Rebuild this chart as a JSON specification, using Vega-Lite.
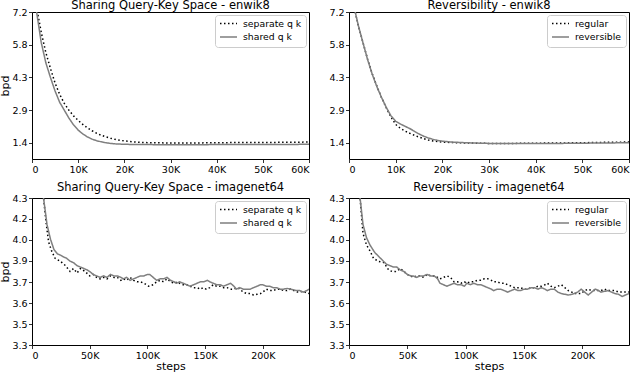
{
 "$schema": "https://vega.github.io/schema/vega-lite/v6.json",
 "padding": {"left": -1, "top": -1, "right": 4, "bottom": 0},
 "background": "white",
 "config": {
  "font": "DejaVu Sans",
  "view": {"stroke": "black", "strokeWidth": 1},
  "axis": {"domain": false, "grid": false, "tickColor": "black", "tickSize": 3.5, "tickWidth": 0.8, "labelFontSize": 9.5, "labelColor": "black", "labelPadding": 1.5, "titleFontSize": 11, "titleFontWeight": "normal", "titleColor": "black", "titlePadding": 1},
  "axisY": {"titlePadding": 1},
  "title": {"fontSize": 11.5, "fontWeight": "normal", "offset": -0.8, "color": "black"},
  "legend": {"orient": "top-right", "offset": 3, "strokeColor": "#cccccc", "fillColor": "white", "cornerRadius": 3, "padding": 4, "symbolType": "stroke", "symbolSize": 289, "symbolStrokeWidth": 1.5, "labelFontSize": 9.3, "labelColor": "black", "labelOffset": 5, "rowPadding": 3.5, "clipHeight": 9}
 },
 "data": {"name": "runs"},
 "spacing": 7,
 "vconcat": [
  {
   "spacing": 18,
   "hconcat": [
    {
     "width": 277, "height": 147,
     "title": {"text": "Sharing Query-Key Space - enwik8", "offset": -4},
     "transform": [{"filter": "datum.panel == 'A'"}],
     "mark": {"type": "line", "strokeWidth": 1.5, "clip": true},
     "encoding": {
      "x": {"field": "step", "type": "quantitative", "scale": {"domain": [0, 60000], "nice": false}, "axis": {"values": [0, 10000, 20000, 30000, 40000, 50000, 60000], "labelExpr": "datum.value == 0 ? '0' : datum.value / 1000 + 'K'", "title": null}},
      "y": {"field": "bpd", "type": "quantitative", "scale": {"domain": [0.69, 7.2], "nice": false, "zero": false}, "axis": {"values": [1.4, 2.85, 4.3, 5.75, 7.2], "format": ".1f", "title": "bpd"}},
      "color": {"field": "series", "type": "nominal", "scale": {"domain": ["separate q k", "shared q k"], "range": ["black", "#7f7f7f"]}, "legend": {"title": null}},
      "strokeDash": {"field": "series", "type": "nominal", "scale": {"domain": ["separate q k", "shared q k"], "range": [[1.5, 2.5], [1, 0]]}, "legend": {"title": null}}
     }
    },
    {
     "width": 280, "height": 147,
     "title": {"text": "Reversibility - enwik8", "offset": -4},
     "transform": [{"filter": "datum.panel == 'B'"}],
     "mark": {"type": "line", "strokeWidth": 1.5, "clip": true},
     "encoding": {
      "x": {"field": "step", "type": "quantitative", "scale": {"domain": [0, 60000], "nice": false}, "axis": {"values": [0, 10000, 20000, 30000, 40000, 50000, 60000], "labelExpr": "datum.value == 0 ? '0' : datum.value / 1000 + 'K'", "title": null}},
      "y": {"field": "bpd", "type": "quantitative", "scale": {"domain": [0.69, 7.2], "nice": false, "zero": false}, "axis": {"values": [1.4, 2.85, 4.3, 5.75, 7.2], "format": ".1f", "title": null}},
      "color": {"field": "series", "type": "nominal", "scale": {"domain": ["regular", "reversible"], "range": ["black", "#7f7f7f"]}, "legend": {"title": null}},
      "strokeDash": {"field": "series", "type": "nominal", "scale": {"domain": ["regular", "reversible"], "range": [[1.5, 2.5], [1, 0]]}, "legend": {"title": null}}
     }
    }
   ],
   "resolve": {"scale": {"x": "independent", "y": "independent", "color": "independent", "strokeDash": "independent"}, "axis": {"x": "independent", "y": "independent"}, "legend": {"color": "independent", "strokeDash": "independent"}}
  },
  {
   "spacing": 18,
   "hconcat": [
    {
     "width": 277, "height": 147,
     "title": "Sharing Query-Key Space - imagenet64",
     "transform": [{"filter": "datum.panel == 'C'"}],
     "mark": {"type": "line", "strokeWidth": 1.5, "clip": true},
     "encoding": {
      "x": {"field": "step", "type": "quantitative", "scale": {"domain": [0, 240000], "nice": false}, "axis": {"values": [0, 50000, 100000, 150000, 200000], "labelExpr": "datum.value == 0 ? '0' : datum.value / 1000 + 'K'", "title": "steps"}},
      "y": {"field": "bpd", "type": "quantitative", "scale": {"domain": [3.3, 4.3], "nice": false, "zero": false}, "axis": {"values": [3.3, 3.442857, 3.585714, 3.728571, 3.871429, 4.014286, 4.157143, 4.3], "labelExpr": "datum.value > 3.4 && datum.value < 3.5 ? '3.5' : format(datum.value, '.1f')", "title": "bpd"}},
      "color": {"field": "series", "type": "nominal", "scale": {"domain": ["separate q k", "shared q k"], "range": ["black", "#7f7f7f"]}, "legend": {"title": null}},
      "strokeDash": {"field": "series", "type": "nominal", "scale": {"domain": ["separate q k", "shared q k"], "range": [[1.5, 2.5], [1, 0]]}, "legend": {"title": null}}
     }
    },
    {
     "width": 280, "height": 147,
     "title": "Reversibility - imagenet64",
     "transform": [{"filter": "datum.panel == 'D'"}],
     "mark": {"type": "line", "strokeWidth": 1.5, "clip": true},
     "encoding": {
      "x": {"field": "step", "type": "quantitative", "scale": {"domain": [0, 240000], "nice": false}, "axis": {"values": [0, 50000, 100000, 150000, 200000], "labelExpr": "datum.value == 0 ? '0' : datum.value / 1000 + 'K'", "title": "steps"}},
      "y": {"field": "bpd", "type": "quantitative", "scale": {"domain": [3.3, 4.3], "nice": false, "zero": false}, "axis": {"values": [3.3, 3.442857, 3.585714, 3.728571, 3.871429, 4.014286, 4.157143, 4.3], "labelExpr": "datum.value > 3.4 && datum.value < 3.5 ? '3.5' : format(datum.value, '.1f')", "title": null}},
      "color": {"field": "series", "type": "nominal", "scale": {"domain": ["regular", "reversible"], "range": ["black", "#7f7f7f"]}, "legend": {"title": null}},
      "strokeDash": {"field": "series", "type": "nominal", "scale": {"domain": ["regular", "reversible"], "range": [[1.5, 2.5], [1, 0]]}, "legend": {"title": null}}
     }
    }
   ],
   "resolve": {"scale": {"x": "independent", "y": "independent", "color": "independent", "strokeDash": "independent"}, "axis": {"x": "independent", "y": "independent"}, "legend": {"color": "independent", "strokeDash": "independent"}}
  }
 ],
 "resolve": {"scale": {"x": "independent", "y": "independent", "color": "independent", "strokeDash": "independent"}, "axis": {"x": "independent", "y": "independent"}, "legend": {"color": "independent", "strokeDash": "independent"}},
 "datasets": {
  "runs": [
   {"panel": "A", "series": "separate q k", "step": 0, "bpd": 8.1},
   {"panel": "A", "series": "separate q k", "step": 1000, "bpd": 7.4},
   {"panel": "A", "series": "separate q k", "step": 2000, "bpd": 6.3},
   {"panel": "A", "series": "separate q k", "step": 3000, "bpd": 5.4},
   {"panel": "A", "series": "separate q k", "step": 4000, "bpd": 4.7},
   {"panel": "A", "series": "separate q k", "step": 5000, "bpd": 4.05},
   {"panel": "A", "series": "separate q k", "step": 6000, "bpd": 3.55},
   {"panel": "A", "series": "separate q k", "step": 7000, "bpd": 3.15},
   {"panel": "A", "series": "separate q k", "step": 8000, "bpd": 2.85},
   {"panel": "A", "series": "separate q k", "step": 9000, "bpd": 2.6},
   {"panel": "A", "series": "separate q k", "step": 10000, "bpd": 2.4},
   {"panel": "A", "series": "separate q k", "step": 11000, "bpd": 2.22},
   {"panel": "A", "series": "separate q k", "step": 12000, "bpd": 2.07},
   {"panel": "A", "series": "separate q k", "step": 13000, "bpd": 1.94},
   {"panel": "A", "series": "separate q k", "step": 14000, "bpd": 1.83},
   {"panel": "A", "series": "separate q k", "step": 15000, "bpd": 1.74},
   {"panel": "A", "series": "separate q k", "step": 16000, "bpd": 1.67},
   {"panel": "A", "series": "separate q k", "step": 17000, "bpd": 1.61},
   {"panel": "A", "series": "separate q k", "step": 18000, "bpd": 1.56},
   {"panel": "A", "series": "separate q k", "step": 19000, "bpd": 1.52},
   {"panel": "A", "series": "separate q k", "step": 20000, "bpd": 1.49},
   {"panel": "A", "series": "separate q k", "step": 22000, "bpd": 1.45},
   {"panel": "A", "series": "separate q k", "step": 24000, "bpd": 1.42},
   {"panel": "A", "series": "separate q k", "step": 26000, "bpd": 1.41},
   {"panel": "A", "series": "separate q k", "step": 30000, "bpd": 1.40},
   {"panel": "A", "series": "separate q k", "step": 35000, "bpd": 1.40},
   {"panel": "A", "series": "separate q k", "step": 40000, "bpd": 1.41},
   {"panel": "A", "series": "separate q k", "step": 45000, "bpd": 1.42},
   {"panel": "A", "series": "separate q k", "step": 50000, "bpd": 1.42},
   {"panel": "A", "series": "separate q k", "step": 55000, "bpd": 1.43},
   {"panel": "A", "series": "separate q k", "step": 60000, "bpd": 1.44},
   {"panel": "A", "series": "shared q k", "step": 0, "bpd": 8.0},
   {"panel": "A", "series": "shared q k", "step": 1000, "bpd": 7.2},
   {"panel": "A", "series": "shared q k", "step": 2000, "bpd": 5.85},
   {"panel": "A", "series": "shared q k", "step": 3000, "bpd": 4.95},
   {"panel": "A", "series": "shared q k", "step": 4000, "bpd": 4.3},
   {"panel": "A", "series": "shared q k", "step": 5000, "bpd": 3.7},
   {"panel": "A", "series": "shared q k", "step": 6000, "bpd": 3.2},
   {"panel": "A", "series": "shared q k", "step": 7000, "bpd": 2.85},
   {"panel": "A", "series": "shared q k", "step": 8000, "bpd": 2.5},
   {"panel": "A", "series": "shared q k", "step": 9000, "bpd": 2.2},
   {"panel": "A", "series": "shared q k", "step": 10000, "bpd": 1.97},
   {"panel": "A", "series": "shared q k", "step": 11000, "bpd": 1.8},
   {"panel": "A", "series": "shared q k", "step": 12000, "bpd": 1.67},
   {"panel": "A", "series": "shared q k", "step": 13000, "bpd": 1.57},
   {"panel": "A", "series": "shared q k", "step": 14000, "bpd": 1.5},
   {"panel": "A", "series": "shared q k", "step": 15000, "bpd": 1.45},
   {"panel": "A", "series": "shared q k", "step": 16000, "bpd": 1.41},
   {"panel": "A", "series": "shared q k", "step": 17000, "bpd": 1.38},
   {"panel": "A", "series": "shared q k", "step": 18000, "bpd": 1.36},
   {"panel": "A", "series": "shared q k", "step": 20000, "bpd": 1.34},
   {"panel": "A", "series": "shared q k", "step": 24000, "bpd": 1.33},
   {"panel": "A", "series": "shared q k", "step": 30000, "bpd": 1.32},
   {"panel": "A", "series": "shared q k", "step": 35000, "bpd": 1.32},
   {"panel": "A", "series": "shared q k", "step": 40000, "bpd": 1.33},
   {"panel": "A", "series": "shared q k", "step": 50000, "bpd": 1.33},
   {"panel": "A", "series": "shared q k", "step": 60000, "bpd": 1.34},
   {"panel": "B", "series": "regular", "step": 0, "bpd": 8.4},
   {"panel": "B", "series": "regular", "step": 1000, "bpd": 7.5},
   {"panel": "B", "series": "regular", "step": 2000, "bpd": 6.6},
   {"panel": "B", "series": "regular", "step": 3000, "bpd": 5.85},
   {"panel": "B", "series": "regular", "step": 4000, "bpd": 5.1},
   {"panel": "B", "series": "regular", "step": 5000, "bpd": 4.45},
   {"panel": "B", "series": "regular", "step": 6000, "bpd": 3.9},
   {"panel": "B", "series": "regular", "step": 7000, "bpd": 3.4},
   {"panel": "B", "series": "regular", "step": 8000, "bpd": 2.95},
   {"panel": "B", "series": "regular", "step": 9000, "bpd": 2.55},
   {"panel": "B", "series": "regular", "step": 10000, "bpd": 2.22},
   {"panel": "B", "series": "regular", "step": 11000, "bpd": 2.05},
   {"panel": "B", "series": "regular", "step": 12000, "bpd": 1.93},
   {"panel": "B", "series": "regular", "step": 13000, "bpd": 1.83},
   {"panel": "B", "series": "regular", "step": 14000, "bpd": 1.74},
   {"panel": "B", "series": "regular", "step": 15000, "bpd": 1.66},
   {"panel": "B", "series": "regular", "step": 16000, "bpd": 1.59},
   {"panel": "B", "series": "regular", "step": 17000, "bpd": 1.53},
   {"panel": "B", "series": "regular", "step": 18000, "bpd": 1.49},
   {"panel": "B", "series": "regular", "step": 19000, "bpd": 1.46},
   {"panel": "B", "series": "regular", "step": 20000, "bpd": 1.44},
   {"panel": "B", "series": "regular", "step": 22000, "bpd": 1.42},
   {"panel": "B", "series": "regular", "step": 25000, "bpd": 1.40},
   {"panel": "B", "series": "regular", "step": 30000, "bpd": 1.38},
   {"panel": "B", "series": "regular", "step": 35000, "bpd": 1.38},
   {"panel": "B", "series": "regular", "step": 40000, "bpd": 1.39},
   {"panel": "B", "series": "regular", "step": 45000, "bpd": 1.40},
   {"panel": "B", "series": "regular", "step": 50000, "bpd": 1.41},
   {"panel": "B", "series": "regular", "step": 55000, "bpd": 1.43},
   {"panel": "B", "series": "regular", "step": 60000, "bpd": 1.44},
   {"panel": "B", "series": "reversible", "step": 0, "bpd": 8.4},
   {"panel": "B", "series": "reversible", "step": 1000, "bpd": 7.5},
   {"panel": "B", "series": "reversible", "step": 2000, "bpd": 6.6},
   {"panel": "B", "series": "reversible", "step": 3000, "bpd": 5.83},
   {"panel": "B", "series": "reversible", "step": 4000, "bpd": 5.08},
   {"panel": "B", "series": "reversible", "step": 5000, "bpd": 4.43},
   {"panel": "B", "series": "reversible", "step": 6000, "bpd": 3.88},
   {"panel": "B", "series": "reversible", "step": 7000, "bpd": 3.4},
   {"panel": "B", "series": "reversible", "step": 8000, "bpd": 2.97},
   {"panel": "B", "series": "reversible", "step": 9000, "bpd": 2.6},
   {"panel": "B", "series": "reversible", "step": 10000, "bpd": 2.36},
   {"panel": "B", "series": "reversible", "step": 11000, "bpd": 2.24},
   {"panel": "B", "series": "reversible", "step": 12000, "bpd": 2.14},
   {"panel": "B", "series": "reversible", "step": 13000, "bpd": 2.04},
   {"panel": "B", "series": "reversible", "step": 14000, "bpd": 1.92},
   {"panel": "B", "series": "reversible", "step": 15000, "bpd": 1.8},
   {"panel": "B", "series": "reversible", "step": 16000, "bpd": 1.7},
   {"panel": "B", "series": "reversible", "step": 17000, "bpd": 1.62},
   {"panel": "B", "series": "reversible", "step": 18000, "bpd": 1.56},
   {"panel": "B", "series": "reversible", "step": 19000, "bpd": 1.51},
   {"panel": "B", "series": "reversible", "step": 20000, "bpd": 1.48},
   {"panel": "B", "series": "reversible", "step": 22000, "bpd": 1.44},
   {"panel": "B", "series": "reversible", "step": 25000, "bpd": 1.41},
   {"panel": "B", "series": "reversible", "step": 30000, "bpd": 1.38},
   {"panel": "B", "series": "reversible", "step": 35000, "bpd": 1.38},
   {"panel": "B", "series": "reversible", "step": 40000, "bpd": 1.38},
   {"panel": "B", "series": "reversible", "step": 45000, "bpd": 1.38},
   {"panel": "B", "series": "reversible", "step": 50000, "bpd": 1.39},
   {"panel": "B", "series": "reversible", "step": 55000, "bpd": 1.40},
   {"panel": "B", "series": "reversible", "step": 60000, "bpd": 1.41},
   {"panel": "C", "series": "separate q k", "step": 5000, "bpd": 5.0},
   {"panel": "C", "series": "separate q k", "step": 10000, "bpd": 4.3},
   {"panel": "C", "series": "separate q k", "step": 12400, "bpd": 4.12},
   {"panel": "C", "series": "separate q k", "step": 14400, "bpd": 4.0},
   {"panel": "C", "series": "separate q k", "step": 17000, "bpd": 3.94},
   {"panel": "C", "series": "separate q k", "step": 20000, "bpd": 3.89},
   {"panel": "C", "series": "separate q k", "step": 24500, "bpd": 3.87},
   {"panel": "C", "series": "separate q k", "step": 29000, "bpd": 3.84},
   {"panel": "C", "series": "separate q k", "step": 33000, "bpd": 3.80},
   {"panel": "C", "series": "separate q k", "step": 36000, "bpd": 3.82},
   {"panel": "C", "series": "separate q k", "step": 39000, "bpd": 3.79},
   {"panel": "C", "series": "separate q k", "step": 42000, "bpd": 3.82},
   {"panel": "C", "series": "separate q k", "step": 46000, "bpd": 3.80},
   {"panel": "C", "series": "separate q k", "step": 50000, "bpd": 3.77},
   {"panel": "C", "series": "separate q k", "step": 53000, "bpd": 3.78},
   {"panel": "C", "series": "separate q k", "step": 56000, "bpd": 3.76},
   {"panel": "C", "series": "separate q k", "step": 59000, "bpd": 3.75},
   {"panel": "C", "series": "separate q k", "step": 62000, "bpd": 3.76},
   {"panel": "C", "series": "separate q k", "step": 65000, "bpd": 3.75},
   {"panel": "C", "series": "separate q k", "step": 68000, "bpd": 3.77},
   {"panel": "C", "series": "separate q k", "step": 71000, "bpd": 3.76},
   {"panel": "C", "series": "separate q k", "step": 74000, "bpd": 3.76},
   {"panel": "C", "series": "separate q k", "step": 77000, "bpd": 3.74},
   {"panel": "C", "series": "separate q k", "step": 79000, "bpd": 3.75},
   {"panel": "C", "series": "separate q k", "step": 82000, "bpd": 3.74},
   {"panel": "C", "series": "separate q k", "step": 85000, "bpd": 3.76},
   {"panel": "C", "series": "separate q k", "step": 88000, "bpd": 3.74},
   {"panel": "C", "series": "separate q k", "step": 91000, "bpd": 3.73},
   {"panel": "C", "series": "separate q k", "step": 94000, "bpd": 3.73},
   {"panel": "C", "series": "separate q k", "step": 97000, "bpd": 3.72},
   {"panel": "C", "series": "separate q k", "step": 101000, "bpd": 3.70},
   {"panel": "C", "series": "separate q k", "step": 105000, "bpd": 3.71},
   {"panel": "C", "series": "separate q k", "step": 108000, "bpd": 3.73},
   {"panel": "C", "series": "separate q k", "step": 111000, "bpd": 3.74},
   {"panel": "C", "series": "separate q k", "step": 114000, "bpd": 3.73},
   {"panel": "C", "series": "separate q k", "step": 117000, "bpd": 3.75},
   {"panel": "C", "series": "separate q k", "step": 120000, "bpd": 3.73},
   {"panel": "C", "series": "separate q k", "step": 123000, "bpd": 3.72},
   {"panel": "C", "series": "separate q k", "step": 126000, "bpd": 3.73},
   {"panel": "C", "series": "separate q k", "step": 128000, "bpd": 3.72},
   {"panel": "C", "series": "separate q k", "step": 131000, "bpd": 3.71},
   {"panel": "C", "series": "separate q k", "step": 134000, "bpd": 3.71},
   {"panel": "C", "series": "separate q k", "step": 137000, "bpd": 3.70},
   {"panel": "C", "series": "separate q k", "step": 140000, "bpd": 3.69},
   {"panel": "C", "series": "separate q k", "step": 143000, "bpd": 3.69},
   {"panel": "C", "series": "separate q k", "step": 146000, "bpd": 3.68},
   {"panel": "C", "series": "separate q k", "step": 148000, "bpd": 3.69},
   {"panel": "C", "series": "separate q k", "step": 151000, "bpd": 3.68},
   {"panel": "C", "series": "separate q k", "step": 154000, "bpd": 3.69},
   {"panel": "C", "series": "separate q k", "step": 157000, "bpd": 3.71},
   {"panel": "C", "series": "separate q k", "step": 160000, "bpd": 3.70},
   {"panel": "C", "series": "separate q k", "step": 163000, "bpd": 3.70},
   {"panel": "C", "series": "separate q k", "step": 166000, "bpd": 3.69},
   {"panel": "C", "series": "separate q k", "step": 169000, "bpd": 3.69},
   {"panel": "C", "series": "separate q k", "step": 172000, "bpd": 3.68},
   {"panel": "C", "series": "separate q k", "step": 175000, "bpd": 3.68},
   {"panel": "C", "series": "separate q k", "step": 178000, "bpd": 3.69},
   {"panel": "C", "series": "separate q k", "step": 180000, "bpd": 3.68},
   {"panel": "C", "series": "separate q k", "step": 183000, "bpd": 3.66},
   {"panel": "C", "series": "separate q k", "step": 186000, "bpd": 3.65},
   {"panel": "C", "series": "separate q k", "step": 189000, "bpd": 3.65},
   {"panel": "C", "series": "separate q k", "step": 192000, "bpd": 3.64},
   {"panel": "C", "series": "separate q k", "step": 195000, "bpd": 3.645},
   {"panel": "C", "series": "separate q k", "step": 198000, "bpd": 3.65},
   {"panel": "C", "series": "separate q k", "step": 200000, "bpd": 3.66},
   {"panel": "C", "series": "separate q k", "step": 203000, "bpd": 3.68},
   {"panel": "C", "series": "separate q k", "step": 206000, "bpd": 3.67},
   {"panel": "C", "series": "separate q k", "step": 209000, "bpd": 3.67},
   {"panel": "C", "series": "separate q k", "step": 212000, "bpd": 3.68},
   {"panel": "C", "series": "separate q k", "step": 215000, "bpd": 3.68},
   {"panel": "C", "series": "separate q k", "step": 218000, "bpd": 3.67},
   {"panel": "C", "series": "separate q k", "step": 221000, "bpd": 3.67},
   {"panel": "C", "series": "separate q k", "step": 224000, "bpd": 3.68},
   {"panel": "C", "series": "separate q k", "step": 227000, "bpd": 3.67},
   {"panel": "C", "series": "separate q k", "step": 230000, "bpd": 3.66},
   {"panel": "C", "series": "separate q k", "step": 232000, "bpd": 3.66},
   {"panel": "C", "series": "separate q k", "step": 235000, "bpd": 3.665},
   {"panel": "C", "series": "separate q k", "step": 238000, "bpd": 3.655},
   {"panel": "C", "series": "separate q k", "step": 240000, "bpd": 3.65},
   {"panel": "C", "series": "shared q k", "step": 5000, "bpd": 5.2},
   {"panel": "C", "series": "shared q k", "step": 10000, "bpd": 4.3},
   {"panel": "C", "series": "shared q k", "step": 13000, "bpd": 4.12},
   {"panel": "C", "series": "shared q k", "step": 16000, "bpd": 4.02},
   {"panel": "C", "series": "shared q k", "step": 19000, "bpd": 3.95},
   {"panel": "C", "series": "shared q k", "step": 22000, "bpd": 3.92},
   {"panel": "C", "series": "shared q k", "step": 25000, "bpd": 3.91},
   {"panel": "C", "series": "shared q k", "step": 27000, "bpd": 3.90},
   {"panel": "C", "series": "shared q k", "step": 30000, "bpd": 3.89},
   {"panel": "C", "series": "shared q k", "step": 33000, "bpd": 3.87},
   {"panel": "C", "series": "shared q k", "step": 36000, "bpd": 3.86},
   {"panel": "C", "series": "shared q k", "step": 39000, "bpd": 3.84},
   {"panel": "C", "series": "shared q k", "step": 42000, "bpd": 3.83},
   {"panel": "C", "series": "shared q k", "step": 45000, "bpd": 3.82},
   {"panel": "C", "series": "shared q k", "step": 48000, "bpd": 3.81},
   {"panel": "C", "series": "shared q k", "step": 50000, "bpd": 3.80},
   {"panel": "C", "series": "shared q k", "step": 53000, "bpd": 3.78},
   {"panel": "C", "series": "shared q k", "step": 56000, "bpd": 3.77},
   {"panel": "C", "series": "shared q k", "step": 59000, "bpd": 3.76},
   {"panel": "C", "series": "shared q k", "step": 62000, "bpd": 3.77},
   {"panel": "C", "series": "shared q k", "step": 65000, "bpd": 3.76},
   {"panel": "C", "series": "shared q k", "step": 68000, "bpd": 3.78},
   {"panel": "C", "series": "shared q k", "step": 71000, "bpd": 3.77},
   {"panel": "C", "series": "shared q k", "step": 74000, "bpd": 3.77},
   {"panel": "C", "series": "shared q k", "step": 77000, "bpd": 3.76},
   {"panel": "C", "series": "shared q k", "step": 79000, "bpd": 3.75},
   {"panel": "C", "series": "shared q k", "step": 82000, "bpd": 3.76},
   {"panel": "C", "series": "shared q k", "step": 85000, "bpd": 3.74},
   {"panel": "C", "series": "shared q k", "step": 88000, "bpd": 3.75},
   {"panel": "C", "series": "shared q k", "step": 91000, "bpd": 3.76},
   {"panel": "C", "series": "shared q k", "step": 94000, "bpd": 3.77},
   {"panel": "C", "series": "shared q k", "step": 97000, "bpd": 3.77},
   {"panel": "C", "series": "shared q k", "step": 100000, "bpd": 3.78},
   {"panel": "C", "series": "shared q k", "step": 102000, "bpd": 3.78},
   {"panel": "C", "series": "shared q k", "step": 105000, "bpd": 3.76},
   {"panel": "C", "series": "shared q k", "step": 108000, "bpd": 3.74},
   {"panel": "C", "series": "shared q k", "step": 111000, "bpd": 3.75},
   {"panel": "C", "series": "shared q k", "step": 114000, "bpd": 3.75},
   {"panel": "C", "series": "shared q k", "step": 117000, "bpd": 3.76},
   {"panel": "C", "series": "shared q k", "step": 120000, "bpd": 3.74},
   {"panel": "C", "series": "shared q k", "step": 123000, "bpd": 3.73},
   {"panel": "C", "series": "shared q k", "step": 125000, "bpd": 3.72},
   {"panel": "C", "series": "shared q k", "step": 128000, "bpd": 3.73},
   {"panel": "C", "series": "shared q k", "step": 131000, "bpd": 3.72},
   {"panel": "C", "series": "shared q k", "step": 134000, "bpd": 3.71},
   {"panel": "C", "series": "shared q k", "step": 137000, "bpd": 3.70},
   {"panel": "C", "series": "shared q k", "step": 140000, "bpd": 3.71},
   {"panel": "C", "series": "shared q k", "step": 143000, "bpd": 3.72},
   {"panel": "C", "series": "shared q k", "step": 146000, "bpd": 3.73},
   {"panel": "C", "series": "shared q k", "step": 149000, "bpd": 3.73},
   {"panel": "C", "series": "shared q k", "step": 152000, "bpd": 3.74},
   {"panel": "C", "series": "shared q k", "step": 154000, "bpd": 3.73},
   {"panel": "C", "series": "shared q k", "step": 157000, "bpd": 3.72},
   {"panel": "C", "series": "shared q k", "step": 160000, "bpd": 3.71},
   {"panel": "C", "series": "shared q k", "step": 163000, "bpd": 3.71},
   {"panel": "C", "series": "shared q k", "step": 166000, "bpd": 3.70},
   {"panel": "C", "series": "shared q k", "step": 169000, "bpd": 3.71},
   {"panel": "C", "series": "shared q k", "step": 172000, "bpd": 3.72},
   {"panel": "C", "series": "shared q k", "step": 175000, "bpd": 3.70},
   {"panel": "C", "series": "shared q k", "step": 177000, "bpd": 3.68},
   {"panel": "C", "series": "shared q k", "step": 180000, "bpd": 3.69},
   {"panel": "C", "series": "shared q k", "step": 183000, "bpd": 3.68},
   {"panel": "C", "series": "shared q k", "step": 186000, "bpd": 3.68},
   {"panel": "C", "series": "shared q k", "step": 189000, "bpd": 3.68},
   {"panel": "C", "series": "shared q k", "step": 192000, "bpd": 3.69},
   {"panel": "C", "series": "shared q k", "step": 195000, "bpd": 3.70},
   {"panel": "C", "series": "shared q k", "step": 198000, "bpd": 3.71},
   {"panel": "C", "series": "shared q k", "step": 200000, "bpd": 3.71},
   {"panel": "C", "series": "shared q k", "step": 203000, "bpd": 3.70},
   {"panel": "C", "series": "shared q k", "step": 206000, "bpd": 3.70},
   {"panel": "C", "series": "shared q k", "step": 209000, "bpd": 3.69},
   {"panel": "C", "series": "shared q k", "step": 212000, "bpd": 3.69},
   {"panel": "C", "series": "shared q k", "step": 215000, "bpd": 3.68},
   {"panel": "C", "series": "shared q k", "step": 218000, "bpd": 3.68},
   {"panel": "C", "series": "shared q k", "step": 221000, "bpd": 3.685},
   {"panel": "C", "series": "shared q k", "step": 224000, "bpd": 3.68},
   {"panel": "C", "series": "shared q k", "step": 227000, "bpd": 3.675},
   {"panel": "C", "series": "shared q k", "step": 229000, "bpd": 3.67},
   {"panel": "C", "series": "shared q k", "step": 232000, "bpd": 3.67},
   {"panel": "C", "series": "shared q k", "step": 235000, "bpd": 3.66},
   {"panel": "C", "series": "shared q k", "step": 238000, "bpd": 3.67},
   {"panel": "C", "series": "shared q k", "step": 240000, "bpd": 3.68},
   {"panel": "D", "series": "regular", "step": 5000, "bpd": 5.0},
   {"panel": "D", "series": "regular", "step": 9500, "bpd": 4.3},
   {"panel": "D", "series": "regular", "step": 12000, "bpd": 4.06},
   {"panel": "D", "series": "regular", "step": 15000, "bpd": 3.98},
   {"panel": "D", "series": "regular", "step": 18000, "bpd": 3.94},
   {"panel": "D", "series": "regular", "step": 21000, "bpd": 3.89},
   {"panel": "D", "series": "regular", "step": 25000, "bpd": 3.87},
   {"panel": "D", "series": "regular", "step": 30000, "bpd": 3.86},
   {"panel": "D", "series": "regular", "step": 34000, "bpd": 3.81},
   {"panel": "D", "series": "regular", "step": 37000, "bpd": 3.80},
   {"panel": "D", "series": "regular", "step": 40000, "bpd": 3.80},
   {"panel": "D", "series": "regular", "step": 44000, "bpd": 3.82},
   {"panel": "D", "series": "regular", "step": 47000, "bpd": 3.80},
   {"panel": "D", "series": "regular", "step": 50000, "bpd": 3.78},
   {"panel": "D", "series": "regular", "step": 53000, "bpd": 3.77},
   {"panel": "D", "series": "regular", "step": 55000, "bpd": 3.76},
   {"panel": "D", "series": "regular", "step": 58000, "bpd": 3.77},
   {"panel": "D", "series": "regular", "step": 61000, "bpd": 3.77},
   {"panel": "D", "series": "regular", "step": 64000, "bpd": 3.76},
   {"panel": "D", "series": "regular", "step": 67000, "bpd": 3.78},
   {"panel": "D", "series": "regular", "step": 70000, "bpd": 3.77},
   {"panel": "D", "series": "regular", "step": 73000, "bpd": 3.77},
   {"panel": "D", "series": "regular", "step": 76000, "bpd": 3.76},
   {"panel": "D", "series": "regular", "step": 78000, "bpd": 3.75},
   {"panel": "D", "series": "regular", "step": 81000, "bpd": 3.76},
   {"panel": "D", "series": "regular", "step": 84000, "bpd": 3.77},
   {"panel": "D", "series": "regular", "step": 87000, "bpd": 3.76},
   {"panel": "D", "series": "regular", "step": 90000, "bpd": 3.73},
   {"panel": "D", "series": "regular", "step": 93000, "bpd": 3.73},
   {"panel": "D", "series": "regular", "step": 96000, "bpd": 3.72},
   {"panel": "D", "series": "regular", "step": 99000, "bpd": 3.73},
   {"panel": "D", "series": "regular", "step": 101000, "bpd": 3.72},
   {"panel": "D", "series": "regular", "step": 104000, "bpd": 3.73},
   {"panel": "D", "series": "regular", "step": 107000, "bpd": 3.73},
   {"panel": "D", "series": "regular", "step": 110000, "bpd": 3.74},
   {"panel": "D", "series": "regular", "step": 113000, "bpd": 3.74},
   {"panel": "D", "series": "regular", "step": 116000, "bpd": 3.75},
   {"panel": "D", "series": "regular", "step": 119000, "bpd": 3.75},
   {"panel": "D", "series": "regular", "step": 122000, "bpd": 3.74},
   {"panel": "D", "series": "regular", "step": 124000, "bpd": 3.73},
   {"panel": "D", "series": "regular", "step": 127000, "bpd": 3.73},
   {"panel": "D", "series": "regular", "step": 130000, "bpd": 3.72},
   {"panel": "D", "series": "regular", "step": 133000, "bpd": 3.72},
   {"panel": "D", "series": "regular", "step": 136000, "bpd": 3.71},
   {"panel": "D", "series": "regular", "step": 139000, "bpd": 3.70},
   {"panel": "D", "series": "regular", "step": 142000, "bpd": 3.69},
   {"panel": "D", "series": "regular", "step": 145000, "bpd": 3.69},
   {"panel": "D", "series": "regular", "step": 147000, "bpd": 3.69},
   {"panel": "D", "series": "regular", "step": 150000, "bpd": 3.68},
   {"panel": "D", "series": "regular", "step": 153000, "bpd": 3.68},
   {"panel": "D", "series": "regular", "step": 156000, "bpd": 3.69},
   {"panel": "D", "series": "regular", "step": 159000, "bpd": 3.69},
   {"panel": "D", "series": "regular", "step": 162000, "bpd": 3.70},
   {"panel": "D", "series": "regular", "step": 165000, "bpd": 3.70},
   {"panel": "D", "series": "regular", "step": 168000, "bpd": 3.71},
   {"panel": "D", "series": "regular", "step": 170000, "bpd": 3.72},
   {"panel": "D", "series": "regular", "step": 173000, "bpd": 3.70},
   {"panel": "D", "series": "regular", "step": 176000, "bpd": 3.69},
   {"panel": "D", "series": "regular", "step": 179000, "bpd": 3.70},
   {"panel": "D", "series": "regular", "step": 182000, "bpd": 3.71},
   {"panel": "D", "series": "regular", "step": 185000, "bpd": 3.69},
   {"panel": "D", "series": "regular", "step": 188000, "bpd": 3.67},
   {"panel": "D", "series": "regular", "step": 191000, "bpd": 3.66},
   {"panel": "D", "series": "regular", "step": 193000, "bpd": 3.65},
   {"panel": "D", "series": "regular", "step": 196000, "bpd": 3.65},
   {"panel": "D", "series": "regular", "step": 199000, "bpd": 3.65},
   {"panel": "D", "series": "regular", "step": 202000, "bpd": 3.67},
   {"panel": "D", "series": "regular", "step": 205000, "bpd": 3.68},
   {"panel": "D", "series": "regular", "step": 208000, "bpd": 3.67},
   {"panel": "D", "series": "regular", "step": 211000, "bpd": 3.67},
   {"panel": "D", "series": "regular", "step": 214000, "bpd": 3.67},
   {"panel": "D", "series": "regular", "step": 216000, "bpd": 3.67},
   {"panel": "D", "series": "regular", "step": 219000, "bpd": 3.68},
   {"panel": "D", "series": "regular", "step": 222000, "bpd": 3.67},
   {"panel": "D", "series": "regular", "step": 225000, "bpd": 3.67},
   {"panel": "D", "series": "regular", "step": 228000, "bpd": 3.67},
   {"panel": "D", "series": "regular", "step": 231000, "bpd": 3.66},
   {"panel": "D", "series": "regular", "step": 234000, "bpd": 3.66},
   {"panel": "D", "series": "regular", "step": 237000, "bpd": 3.66},
   {"panel": "D", "series": "regular", "step": 240000, "bpd": 3.66},
   {"panel": "D", "series": "reversible", "step": 5000, "bpd": 5.2},
   {"panel": "D", "series": "reversible", "step": 9500, "bpd": 4.3},
   {"panel": "D", "series": "reversible", "step": 12000, "bpd": 4.12},
   {"panel": "D", "series": "reversible", "step": 15000, "bpd": 4.03},
   {"panel": "D", "series": "reversible", "step": 18000, "bpd": 3.98},
   {"panel": "D", "series": "reversible", "step": 22000, "bpd": 3.93},
   {"panel": "D", "series": "reversible", "step": 27000, "bpd": 3.89},
   {"panel": "D", "series": "reversible", "step": 32000, "bpd": 3.85},
   {"panel": "D", "series": "reversible", "step": 35000, "bpd": 3.84},
   {"panel": "D", "series": "reversible", "step": 38000, "bpd": 3.83},
   {"panel": "D", "series": "reversible", "step": 41000, "bpd": 3.83},
   {"panel": "D", "series": "reversible", "step": 44000, "bpd": 3.81},
   {"panel": "D", "series": "reversible", "step": 47000, "bpd": 3.80},
   {"panel": "D", "series": "reversible", "step": 50000, "bpd": 3.78},
   {"panel": "D", "series": "reversible", "step": 53000, "bpd": 3.77},
   {"panel": "D", "series": "reversible", "step": 55000, "bpd": 3.77},
   {"panel": "D", "series": "reversible", "step": 58000, "bpd": 3.76},
   {"panel": "D", "series": "reversible", "step": 61000, "bpd": 3.77},
   {"panel": "D", "series": "reversible", "step": 64000, "bpd": 3.77},
   {"panel": "D", "series": "reversible", "step": 67000, "bpd": 3.78},
   {"panel": "D", "series": "reversible", "step": 70000, "bpd": 3.77},
   {"panel": "D", "series": "reversible", "step": 73000, "bpd": 3.77},
   {"panel": "D", "series": "reversible", "step": 76000, "bpd": 3.75},
   {"panel": "D", "series": "reversible", "step": 78000, "bpd": 3.72},
   {"panel": "D", "series": "reversible", "step": 81000, "bpd": 3.71},
   {"panel": "D", "series": "reversible", "step": 84000, "bpd": 3.70},
   {"panel": "D", "series": "reversible", "step": 87000, "bpd": 3.71},
   {"panel": "D", "series": "reversible", "step": 90000, "bpd": 3.72},
   {"panel": "D", "series": "reversible", "step": 93000, "bpd": 3.71},
   {"panel": "D", "series": "reversible", "step": 96000, "bpd": 3.71},
   {"panel": "D", "series": "reversible", "step": 99000, "bpd": 3.70},
   {"panel": "D", "series": "reversible", "step": 101000, "bpd": 3.72},
   {"panel": "D", "series": "reversible", "step": 104000, "bpd": 3.71},
   {"panel": "D", "series": "reversible", "step": 107000, "bpd": 3.72},
   {"panel": "D", "series": "reversible", "step": 110000, "bpd": 3.71},
   {"panel": "D", "series": "reversible", "step": 113000, "bpd": 3.71},
   {"panel": "D", "series": "reversible", "step": 116000, "bpd": 3.70},
   {"panel": "D", "series": "reversible", "step": 119000, "bpd": 3.69},
   {"panel": "D", "series": "reversible", "step": 122000, "bpd": 3.68},
   {"panel": "D", "series": "reversible", "step": 124000, "bpd": 3.67},
   {"panel": "D", "series": "reversible", "step": 127000, "bpd": 3.68},
   {"panel": "D", "series": "reversible", "step": 130000, "bpd": 3.68},
   {"panel": "D", "series": "reversible", "step": 133000, "bpd": 3.67},
   {"panel": "D", "series": "reversible", "step": 136000, "bpd": 3.66},
   {"panel": "D", "series": "reversible", "step": 139000, "bpd": 3.67},
   {"panel": "D", "series": "reversible", "step": 142000, "bpd": 3.68},
   {"panel": "D", "series": "reversible", "step": 145000, "bpd": 3.67},
   {"panel": "D", "series": "reversible", "step": 147000, "bpd": 3.67},
   {"panel": "D", "series": "reversible", "step": 150000, "bpd": 3.68},
   {"panel": "D", "series": "reversible", "step": 153000, "bpd": 3.68},
   {"panel": "D", "series": "reversible", "step": 156000, "bpd": 3.69},
   {"panel": "D", "series": "reversible", "step": 159000, "bpd": 3.69},
   {"panel": "D", "series": "reversible", "step": 162000, "bpd": 3.68},
   {"panel": "D", "series": "reversible", "step": 165000, "bpd": 3.69},
   {"panel": "D", "series": "reversible", "step": 168000, "bpd": 3.68},
   {"panel": "D", "series": "reversible", "step": 170000, "bpd": 3.67},
   {"panel": "D", "series": "reversible", "step": 173000, "bpd": 3.68},
   {"panel": "D", "series": "reversible", "step": 176000, "bpd": 3.68},
   {"panel": "D", "series": "reversible", "step": 179000, "bpd": 3.66},
   {"panel": "D", "series": "reversible", "step": 182000, "bpd": 3.65},
   {"panel": "D", "series": "reversible", "step": 185000, "bpd": 3.645},
   {"panel": "D", "series": "reversible", "step": 188000, "bpd": 3.64},
   {"panel": "D", "series": "reversible", "step": 191000, "bpd": 3.645},
   {"panel": "D", "series": "reversible", "step": 193000, "bpd": 3.65},
   {"panel": "D", "series": "reversible", "step": 196000, "bpd": 3.66},
   {"panel": "D", "series": "reversible", "step": 199000, "bpd": 3.68},
   {"panel": "D", "series": "reversible", "step": 202000, "bpd": 3.66},
   {"panel": "D", "series": "reversible", "step": 205000, "bpd": 3.64},
   {"panel": "D", "series": "reversible", "step": 208000, "bpd": 3.66},
   {"panel": "D", "series": "reversible", "step": 211000, "bpd": 3.68},
   {"panel": "D", "series": "reversible", "step": 214000, "bpd": 3.67},
   {"panel": "D", "series": "reversible", "step": 216000, "bpd": 3.66},
   {"panel": "D", "series": "reversible", "step": 219000, "bpd": 3.665},
   {"panel": "D", "series": "reversible", "step": 222000, "bpd": 3.67},
   {"panel": "D", "series": "reversible", "step": 225000, "bpd": 3.66},
   {"panel": "D", "series": "reversible", "step": 228000, "bpd": 3.65},
   {"panel": "D", "series": "reversible", "step": 231000, "bpd": 3.645},
   {"panel": "D", "series": "reversible", "step": 234000, "bpd": 3.63},
   {"panel": "D", "series": "reversible", "step": 237000, "bpd": 3.64},
   {"panel": "D", "series": "reversible", "step": 240000, "bpd": 3.65}
  ]
 }
}
